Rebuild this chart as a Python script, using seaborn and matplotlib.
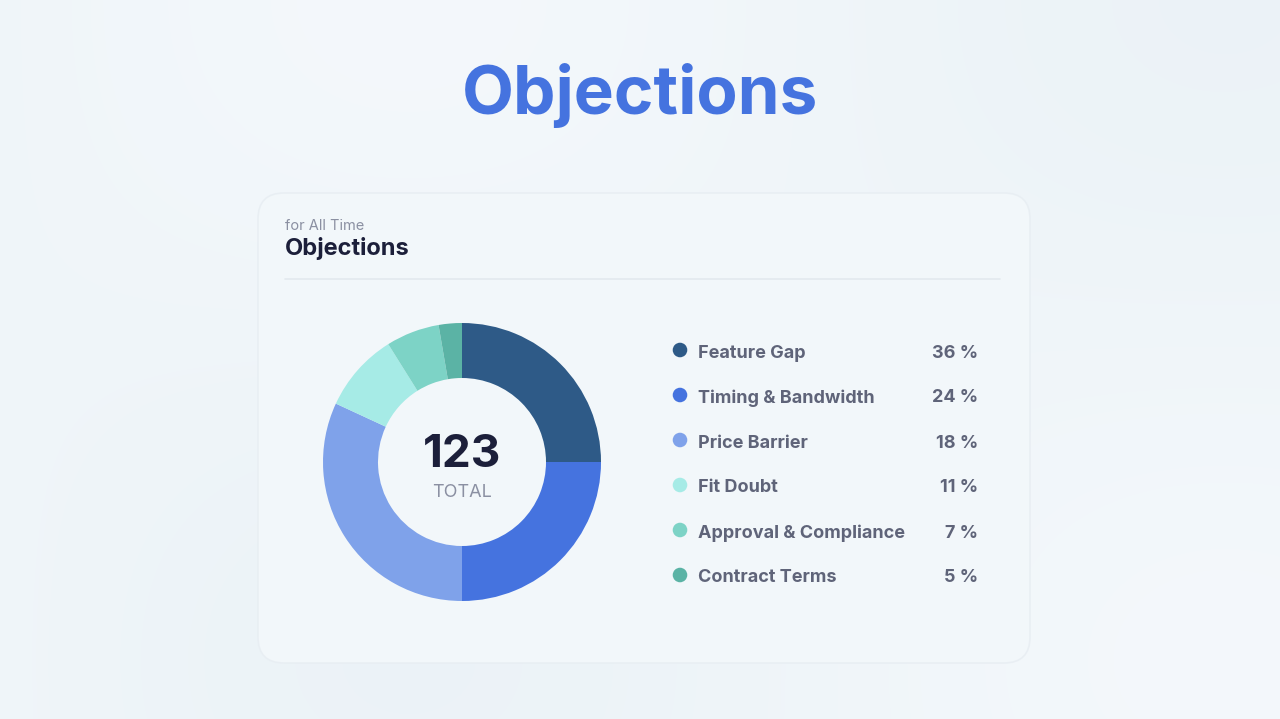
import numpy as np
import pandas as pd
import seaborn as sns
import matplotlib.pyplot as plt
from matplotlib.patches import FancyBboxPatch

# data
categories = ['Feature Gap', 'Timing & Bandwidth', 'Price Barrier', 'Fit Doubt',
              'Approval & Compliance', 'Contract Terms']
wedge_sizes = [25, 25, 31.9, 9.2, 6.2, 2.7]   # wedge shares as drawn
percent_labels = ['36 %', '24 %', '18 %', '11 %', '7 %', '5 %']
colors = ['#2e5a87', '#4573df', '#7fa2ea', '#a6ebe6', '#7dd3c6', '#5bb3a5']
total = 123

sns.set_theme(style='white')
plt.rcParams['font.family'] = ['Inter', 'DejaVu Sans']

W, H = 1280, 719
fig = plt.figure(figsize=(W / 100, H / 100), dpi=100)

# background + card, pixel coordinates (y down)
bg = fig.add_axes([0, 0, 1, 1])
yy, xx = np.mgrid[0:H, 0:W]
grad = 0.5 + 0.5 * np.sin(xx / 260.0) * np.cos(yy / 210.0)
bg_img = np.zeros((H, W, 3))
c1 = np.array([0.955, 0.972, 0.985])
c2 = np.array([0.925, 0.952, 0.970])
for i in range(3):
    bg_img[..., i] = c1[i] * grad + c2[i] * (1 - grad)
bg.imshow(bg_img, extent=[0, W, H, 0], aspect='auto')
bg.set_xlim(0, W)
bg.set_ylim(H, 0)
bg.axis('off')

card = FancyBboxPatch((258, 193), 772, 470, boxstyle='round,pad=0,rounding_size=26',
                      facecolor='#f3f8fb', edgecolor='#e8eef3', linewidth=1.2, alpha=0.9)
bg.add_patch(card)
bg.plot([285, 1000], [279, 279], color='#e3e9ef', lw=1.2)

bg.text(640, 95, 'Objections', ha='center', va='center', fontsize=48.5,
        fontweight='bold', color='#4573df')
bg.text(285, 226, 'for All Time', ha='left', va='center', fontsize=10.5, color='#8b90a2')
bg.text(285, 248, 'Objections', ha='left', va='center', fontsize=17,
        fontweight='bold', color='#1c1f3a')

# legend
rows = np.arange(len(categories)) * 45 + 350
legend_df = pd.DataFrame({'x': [680] * len(categories), 'y': rows, 'cat': categories})
sns.scatterplot(data=legend_df, x='x', y='y', hue='cat', palette=colors, s=110,
                edgecolor='none', legend=False, ax=bg)
for y, name, pct in zip(rows, categories, percent_labels):
    bg.text(698, y + 1, name, ha='left', va='center_baseline', fontsize=13,
            fontweight='bold', color='#5f6479')
    bg.text(978, y + 1, pct, ha='right', va='center_baseline', fontsize=13,
            fontweight='bold', color='#5f6479')
bg.set_xlim(0, W)
bg.set_ylim(H, 0)
bg.set_xlabel('')
bg.set_ylabel('')

# donut
cx, cy, r = 462, 462, 139
ax = fig.add_axes([(cx - r) / W, (H - cy - r) / H, 2 * r / W, 2 * r / H])
ax.pie(wedge_sizes, colors=colors, startangle=90, counterclock=False, radius=1,
       wedgeprops=dict(width=55 / 139, edgecolor='none'))
ax.set_xlim(-1, 1)
ax.set_ylim(-1, 1)
ax.set_aspect('equal')
ax.axis('off')
ax.text(0, 0.05, str(total), ha='center', va='center', fontsize=33,
        fontweight='bold', color='#1c1f3a')
ax.text(0, -0.22, 'TOTAL', ha='center', va='center', fontsize=13, color='#8b90a2')

fig.savefig('out.png', dpi=100)
